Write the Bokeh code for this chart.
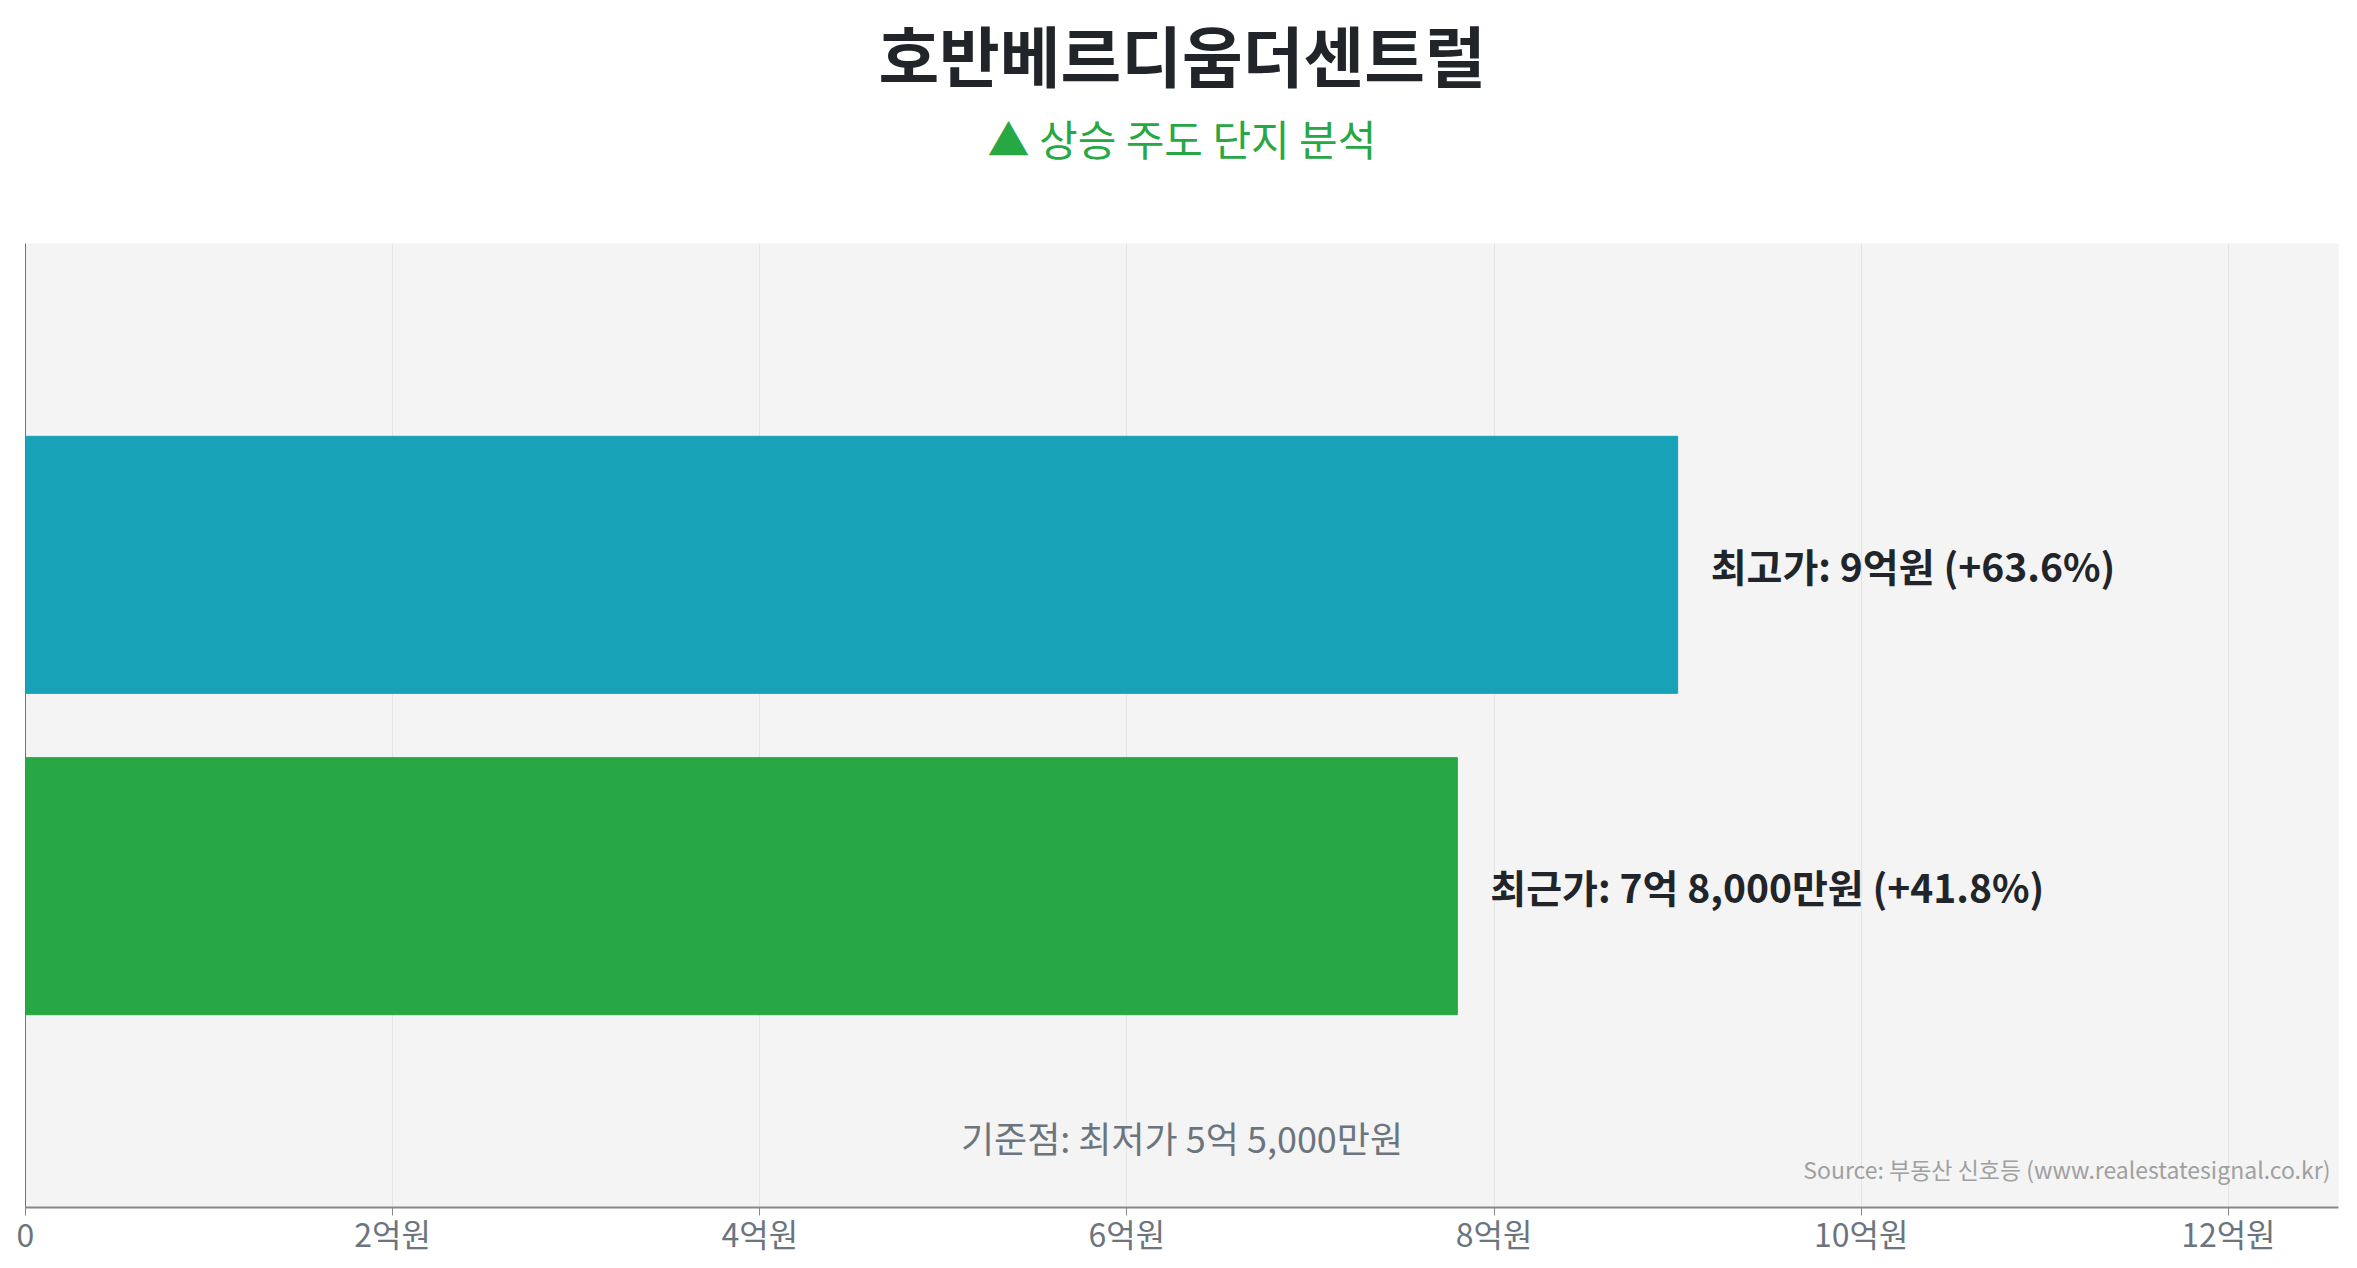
from bokeh.embed import file_html
from bokeh.models import ColumnDataSource, FixedTicker, Label, Range1d, Title
from bokeh.plotting import figure
from bokeh.resources import INLINE

# Data (prices in 억원)
categories = ["최고가", "최근가"]
prices = [9.0, 7.8]
changes = [63.6, 41.8]
bar_labels = ["최고가: 9억원 (+63.6%)", "최근가: 7억 8,000만원 (+41.8%)"]
bar_colors = ["#17a2b8", "#28a745"]
base_label = "기준점: 최저가 5억 5,000만원"
source_note = "Source: 부동산 신호등 (www.realestatesignal.co.kr)"
x_ticks = [0, 2, 4, 6, 8, 10, 12]
x_tick_labels = ["0", "2억원", "4억원", "6억원", "8억원", "10억원", "12억원"]
x_max = 12.6

FONT = "Noto Sans CJK KR"

source = ColumnDataSource(data=dict(
    y=[1, 2],
    price=prices,
    label=bar_labels,
    color=bar_colors,
))

p = figure(width=2341, height=1258, output_backend="svg", toolbar_location=None,
           x_range=Range1d(0, x_max), y_range=Range1d(3, 0),
           background_fill_color="#f4f4f4", border_fill_color="white",
           min_border_left=25, min_border_right=3, min_border_top=0,
           min_border_bottom=0, outline_line_color=None)

# stacked outward from the plot: spacer, subtitle, main title
p.add_layout(Title(text=" ", text_font_size="10px", standoff=62), "above")
p.add_layout(Title(text="▲ 상승 주도 단지 분석", align="center", text_font=FONT,
                   text_font_size="42px", text_font_style="normal",
                   text_color="#28a745", standoff=2), "above")
p.add_layout(Title(text="호반베르디움더센트럴", align="center", text_font=FONT,
                   text_font_size="66px", text_font_style="bold",
                   text_color="#212529", standoff=5), "above")

p.hbar(y="y", left=0, right="price", height=0.8, color="color", source=source)

p.text(x="price", y="y", text="label", source=source, x_offset=33,
       text_align="left", text_baseline="middle", text_font_size="39px",
       text_font_style="bold", text_color="#212529",
       text_font={"value": FONT})

p.add_layout(Label(x=x_max / 2, y=2.78, text=base_label, text_align="center",
                   text_baseline="middle", text_font=FONT, text_font_size="36px",
                   text_color="#6c757d"))
p.add_layout(Label(x=x_max * 0.9965, y=2.88, text=source_note,
                   text_align="right", text_baseline="middle", text_font=FONT,
                   text_font_size="23px", text_color="#a0a0a0"))

p.xaxis.ticker = FixedTicker(ticks=x_ticks)
p.xaxis.major_label_overrides = {t: s for t, s in zip(x_ticks, x_tick_labels)}
p.xaxis.major_label_text_font = FONT
p.xaxis.major_label_text_font_size = "32px"
p.xaxis.major_label_text_color = "#6c757d"
p.xaxis.axis_line_color = "#888888"
p.xaxis.axis_line_width = 2
p.xaxis.major_tick_line_color = "#888888"
p.xaxis.major_tick_in = 0
p.xaxis.major_tick_out = 8
p.xaxis.minor_tick_line_color = None
p.xaxis.major_label_standoff = -6

p.yaxis.ticker = FixedTicker(ticks=[])
p.yaxis.axis_line_color = "#6c757d"
p.yaxis.major_tick_line_color = None
p.yaxis.minor_tick_line_color = None
p.yaxis.major_label_text_font_size = "0px"

p.xgrid.ticker = FixedTicker(ticks=x_ticks)
p.xgrid.grid_line_color = "#e4e4e4"
p.ygrid.grid_line_color = None

open("out.html", "w").write(file_html(p, INLINE))
